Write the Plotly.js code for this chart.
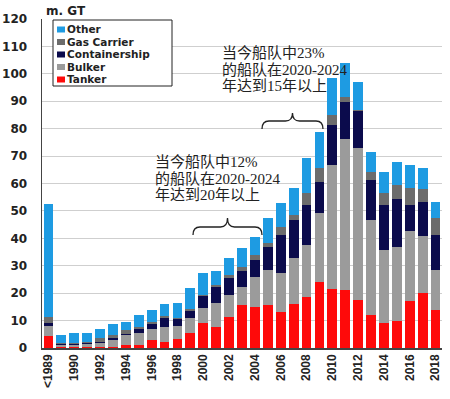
<!DOCTYPE html>
<html>
<head>
<meta charset="utf-8">
<script src="https://cdn.plot.ly/plotly-3.0.1.min.js"></script>
<style>html,body{margin:0;padding:0;background:#fff;}#chart{width:450px;height:399px;}</style>
</head>
<body>
<div id="chart"></div>
<script>
// ---- data (m. GT) ----
const categories = ['<1989','1989','1990','1991','1992','1993','1994','1995','1996','1997','1998','1999','2000','2001','2002','2003','2004','2005','2006','2007','2008','2009','2010','2011','2012','2013','2014','2015','2016','2017','2018'];
const tanker    = [4.3,0.2,0.2,0.2,0.3,0.3,1.0,1.2,3.0,2.3,3.2,5.6,9.0,7.8,11.4,15.6,14.9,15.6,13.3,16.0,18.5,24.2,21.7,21.1,17.4,12.0,9.0,9.9,17.1,19.9,14.0];
const bulker    = [3.7,0.8,1.0,1.1,1.5,2.5,3.6,4.4,4.0,5.5,4.8,5.3,5.5,8.5,7.9,6.7,11.1,12.8,14.0,16.7,19.2,24.9,45.0,55.3,55.4,34.7,26.8,27.0,25.5,21.0,14.4];
const container = [1.0,0.6,0.3,0.5,0.5,0.7,0.6,1.2,1.8,3.0,2.5,2.7,4.3,5.8,6.1,5.7,6.1,8.5,14.0,14.0,14.6,11.6,14.6,13.2,13.5,14.6,16.5,17.4,9.7,12.2,12.8];
const gas       = [2.4,0.2,0.4,0.3,1.2,1.2,1.2,1.0,0.8,0.8,0.5,0.5,0.6,0.9,1.2,1.6,1.8,1.3,3.0,1.8,4.2,4.8,3.7,2.0,0.5,3.0,4.2,5.1,6.1,4.9,6.3];
const other     = [41.1,2.9,3.7,3.5,3.3,4.1,3.2,4.2,4.3,4.4,5.5,7.8,8.1,5.2,6.1,6.7,6.7,9.3,8.7,9.7,12.8,13.4,13.4,12.2,10.3,7.3,7.8,8.5,8.3,7.8,5.9];
const seriesNames = ['Tanker','Bulker','Containership','Gas Carrier','Other'];
const tickCats  = ['<1989','1990','1992','1994','1996','1998','2000','2002','2004','2006','2008','2010','2012','2014','2016','2018'];
const tickLabels = ['&lt;1989','1990','1992','1994','1996','1998','2000','2002','2004','2006','2008','2010','2012','2014','2016','2018'];
const yTicks = [0,10,20,30,40,50,60,70,80,90,100,110,120];
const note1 = ['当今船队中12%','的船队在2020-2024','年达到20年以上'];
const note2 = ['当今船队中23%','的船队在2020-2024','年达到15年以上'];

// ---- styling ----
const colors = {Tanker:'#fe0a0a', Bulker:'#9b9b9b', Containership:'#0b0b4c', 'Gas Carrier':'#6c6c6c', Other:'#1e9be2'};
const W = 450, H = 399, ML = 42, MR = 8, MT = 19, MB = 51;
const PW = W - ML - MR, PH = H - MT - MB;
const fx = px => (px - ML) / PW;
const fy = py => (H - MB - py) / PH;

const values = [tanker, bulker, container, gas, other];
const traces = seriesNames.map((n, i) => ({
  type: 'bar', name: n, x: categories, y: values[i],
  marker: {color: colors[n], line: {width: 0}},
  hoverinfo: 'x+y+name'
}));

const shapes = [];
const annotations = [];

// custom compact legend
shapes.push({type:'rect', xref:'paper', yref:'paper', x0:fx(53), x1:fx(172), y0:fy(86), y1:fy(20),
  line:{color:'#222', width:1}, fillcolor:'#fff', layer:'above'});
const legendOrder = ['Other','Gas Carrier','Containership','Bulker','Tanker'];
const legendY = [29.5, 42, 54.5, 67, 79.5];
legendOrder.forEach((n, i) => {
  const cy = legendY[i];
  shapes.push({type:'rect', xref:'paper', yref:'paper', x0:fx(57), x1:fx(65), y0:fy(cy+3), y1:fy(cy-3),
    line:{width:0}, fillcolor:colors[n], layer:'above'});
  annotations.push({xref:'paper', yref:'paper', x:fx(66), y:fy(cy), xanchor:'left', yanchor:'middle',
    text:n, showarrow:false, borderpad:0, font:{family:'DejaVu Sans', size:10.5, color:'#222', weight:'bold'}});
});

// unit label
annotations.push({xref:'paper', yref:'paper', x:fx(44), y:fy(11), xanchor:'left', yanchor:'middle',
  text:'m. GT', showarrow:false, font:{family:'DejaVu Sans', size:12, color:'#222', weight:'bold'}});

// notes
const noteFont = {family:'Liberation Serif, Noto Sans CJK SC', size:15, color:'#222'};
note1.forEach((t, i) => annotations.push({xref:'paper', yref:'paper', x:fx(154), y:fy(162 + i*16.5),
  xanchor:'left', yanchor:'middle', text:t, showarrow:false, borderpad:0, font:noteFont}));
note2.forEach((t, i) => annotations.push({xref:'paper', yref:'paper', x:fx(221), y:fy(53 + i*16.5),
  xanchor:'left', yanchor:'middle', text:t, showarrow:false, borderpad:0, font:noteFont}));

// curly braces
function brace(x0, x1, yl, yEnd, yTip) {
  const xm = (x0 + x1) / 2, r = 7;
  const P = (x, y) => fx(x).toFixed(5) + ',' + fy(y).toFixed(5);
  return 'M' + P(x0, yEnd) + ' Q' + P(x0, yl) + ' ' + P(x0 + r, yl) +
         ' L' + P(xm - r, yl) + ' Q' + P(xm, yl) + ' ' + P(xm, yTip) +
         ' Q' + P(xm, yl) + ' ' + P(xm + r, yl) +
         ' L' + P(x1 - r, yl) + ' Q' + P(x1, yl) + ' ' + P(x1, yEnd);
}
shapes.push({type:'path', xref:'paper', yref:'paper', path:brace(193, 262, 227, 235, 218), line:{color:'#222', width:1.3}, layer:'above'});
shapes.push({type:'path', xref:'paper', yref:'paper', path:brace(262, 323, 121, 129, 113), line:{color:'#222', width:1.3}, layer:'above'});

const layout = {
  width: W, height: H,
  margin: {l: ML, r: MR, t: MT, b: MB, pad: 0},
  paper_bgcolor: '#fff', plot_bgcolor: '#fff',
  barmode: 'stack', bargap: 0.24,
  showlegend: false,
  xaxis: {
    type: 'category', categoryorder: 'array', categoryarray: categories,
    range: [-0.5, categories.length - 0.5],
    tickmode: 'array', tickvals: tickCats, ticktext: tickLabels,
    tickangle: -90, ticks: '', showgrid: false,
    showline: true, linecolor: '#444', linewidth: 1.5,
    tickfont: {family: 'Liberation Sans', size: 12, color: '#222', weight: 'bold'},
    fixedrange: true
  },
  yaxis: {
    range: [0, 120], tickmode: 'array', tickvals: yTicks,
    ticks: '', ticklabelstandoff: 11,
    showgrid: true, gridcolor: '#cfcfcf', gridwidth: 1,
    zeroline: false, showline: true, linecolor: '#444', linewidth: 1.5,
    tickfont: {family: 'DejaVu Sans', size: 12, color: '#222', weight: 'bold'},
    fixedrange: true
  },
  shapes: shapes,
  annotations: annotations,
  font: {family: 'Liberation Sans'}
};

Plotly.newPlot('chart', traces, layout, {displayModeBar: false, staticPlot: true});
</script>
</body>
</html>
